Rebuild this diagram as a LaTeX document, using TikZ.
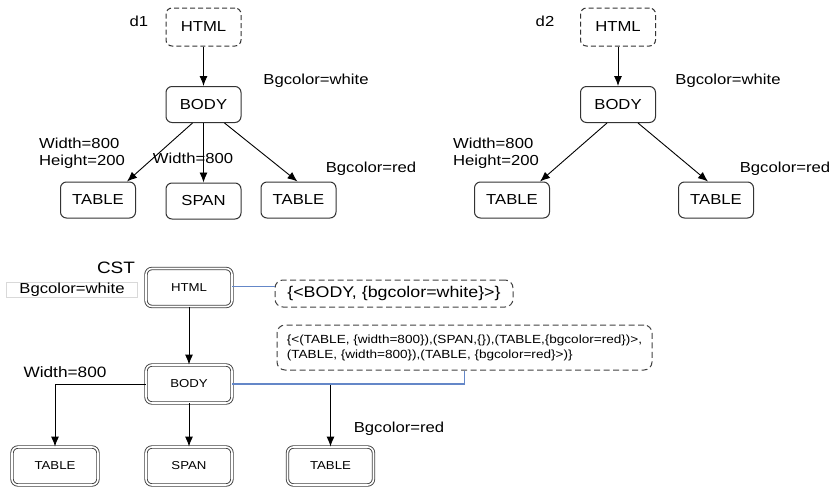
\documentclass[tikz,border=0pt]{standalone}
\usepackage{fontspec}
\setmainfont[FakeStretch=1.15]{Liberation Sans}
\usepackage{xcolor}
\usetikzlibrary{arrows.meta,calc,positioning}
\definecolor{linkblue}{RGB}{100,135,200}
\newcommand{\lbl}{\fontsize{14.5}{17}\selectfont}
\newcommand{\sml}{\fontsize{11.5}{14}\selectfont}

\begin{document}
\begin{tikzpicture}[x=1pt,y=-1pt]
\tikzset{box/.style = {shape=rectangle,draw=black!80,line width=1pt,rounded corners=6pt,minimum width=75pt,minimum height=36pt,font=\lbl}}
\tikzset{dbox/.style = {box,dash pattern=on 5pt off 3pt,minimum height=38pt}}
\tikzset{cbox/.style = {shape=rectangle,draw=black!75,double,double distance=1.6pt,line width=0.9pt,rounded corners=6pt,minimum width=86pt,minimum height=38pt,font=\sml}}
\tikzset{note/.style = {shape=rectangle,draw=black!75,dash pattern=on 6pt off 3.5pt,rounded corners=8pt,line width=1pt}}
\tikzset{edge/.style = {-{Latex[length=10pt,width=8pt]},line width=0.9pt}}
\tikzset{link/.style = {linkblue,line width=1.1pt}}
\useasboundingbox (0,0) rectangle (830,488);
% d1
\node[font=\lbl] (d1) at (139,21) {d1};
\node[dbox] (h1) at (203.5,27) {HTML};
\node[box] (b1) at (203.5,104.5) {BODY};
\node[box] (t1) at (98,200) {TABLE};
\node[box] (s1) at (203.5,201) {SPAN};
\node[box] (u1) at (298.5,200) {TABLE};
\node[font=\lbl] (w1) at (316,81) {Bgcolor=white};
\node[font=\lbl,align=left] (a1) at (82,153) {Width=800\\Height=200};
\node[font=\lbl] (m1) at (193,158) {Width=800};
\node[font=\lbl] (r1) at (371,169) {Bgcolor=red};
\draw[edge] (h1) to (b1);
\draw[edge] ([xshift=-11pt]b1.south) to ([xshift=29pt]t1.north);
\draw[edge] (b1) to (s1);
\draw[edge] ([xshift=21pt]b1.south) to ([xshift=-1pt]u1.north);
% d2
\node[font=\lbl] (d2) at (545,21) {d2};
\node[dbox] (h2) at (618,27) {HTML};
\node[box] (b2) at (618,104.5) {BODY};
\node[box] (t2) at (512,200) {TABLE};
\node[box] (u2) at (716,200) {TABLE};
\node[font=\lbl] (w2) at (728,81) {Bgcolor=white};
\node[font=\lbl,align=left] (a2) at (496,153) {Width=800\\Height=200};
\node[font=\lbl] (r2) at (785,169) {Bgcolor=red};
\draw[edge] (h2) to (b2);
\draw[edge] ([xshift=-11pt]b2.south) to ([xshift=28pt]t2.north);
\draw[edge] ([xshift=20pt]b2.south) to ([xshift=-8pt]u2.north);
% CST
\node[font=\fontsize{16.5}{19}\selectfont] (cst) at (116,268) {CST};
\node[draw=black!15,line width=0.5pt,minimum width=131pt,minimum height=15pt,inner sep=0pt,font=\lbl] (cw) at (72,289.5) {Bgcolor=white};
\node[cbox] (ch) at (189,287.5) {HTML};
\node[cbox] (cb) at (189,384) {BODY};
\node[cbox] (ct1) at (55,466) {TABLE};
\node[cbox] (cs) at (189,466) {SPAN};
\node[cbox] (ct3) at (330.5,466) {TABLE};
\node[note,minimum width=238pt,minimum height=27pt,font=\fontsize{15.5}{18}\selectfont] (n1) at (394,293.5) {\{<BODY, \{bgcolor=white\}>\}};
\node[note,minimum width=375pt,minimum height=45pt,inner xsep=3pt,align=left,font=\fontsize{11.8}{15}\selectfont] (n2) at (464.5,347.5)
  {\{<(TABLE, \{width=800\}),(SPAN,\{\}),(TABLE,\{bgcolor=red\})>,\\(TABLE, \{width=800\}),(TABLE, \{bgcolor=red\}>)\}};
\node[font=\fontsize{15}{18}\selectfont] (cw2) at (65,372) {Width=800};
\node[font=\lbl] (cr) at (399,429) {Bgcolor=red};
\draw[edge] (ch) to (cb);
\draw[edge] (cb.west) -| (ct1.north);
\draw[edge] (cb) to (cs);
\draw[edge] (cb.east) -| (ct3.north);
\draw[link] ([yshift=1pt]ch.east) -- ([yshift=1pt]ch.east -| n1.west);
\draw[link] (cb.east) -| (n2.south);
\end{tikzpicture}
\end{document}
